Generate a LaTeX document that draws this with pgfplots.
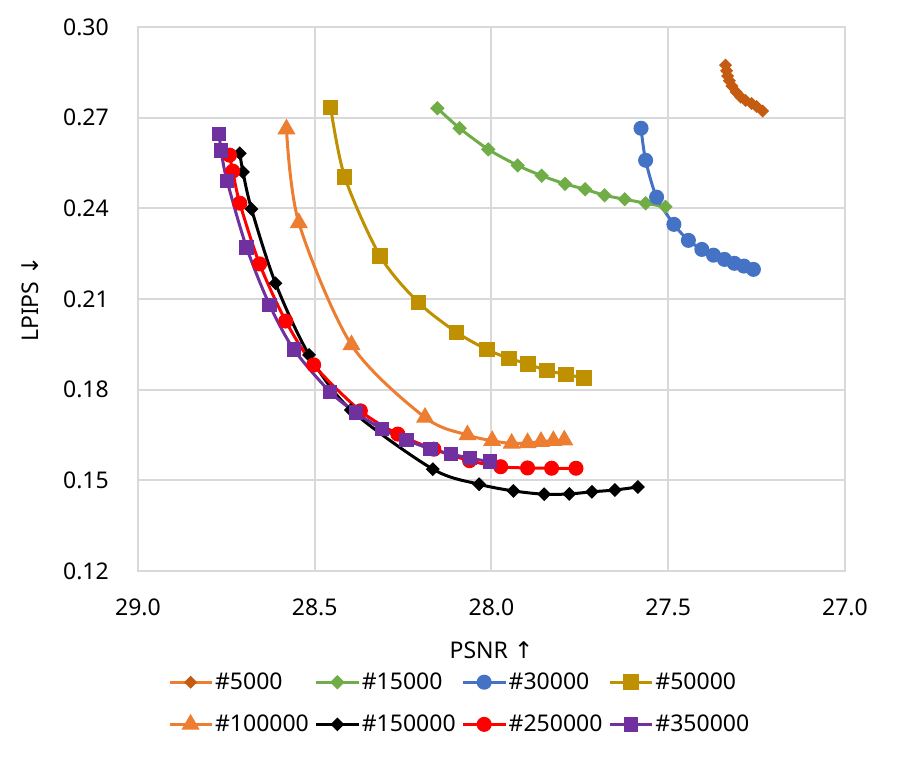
\documentclass[border=0pt]{standalone}
\usepackage{pgfplots}
\pgfplotsset{compat=1.18}
\usepackage{fontspec}
\setmainfont{Noto Sans}
\newfontfamily\symfont{DejaVu Sans}

\definecolor{cA}{HTML}{C55A11}
\definecolor{cAline}{HTML}{ED7D31}
\definecolor{cB}{HTML}{70AD47}
\definecolor{cC}{HTML}{4472C4}
\definecolor{cD}{HTML}{BF9000}
\definecolor{cE}{HTML}{ED7D31}
\definecolor{cF}{HTML}{000000}
\definecolor{cG}{HTML}{FF0000}
\definecolor{cH}{HTML}{7030A0}
\definecolor{gridc}{HTML}{D9D9D9}

\newcommand{\chartfont}{\fontsize{23bp}{27bp}\selectfont}

\begin{document}
\begin{tikzpicture}
\path[use as bounding box] (0,0) rectangle (915bp,759bp);
\begin{axis}[
    at={(138bp,188bp)}, anchor=south west,
    width=707bp, height=544bp, scale only axis,
    x dir=reverse,
    xmin=27, xmax=29, ymin=0.12, ymax=0.30,
    xtick={27,27.5,28,28.5,29},
    ytick={0.12,0.15,0.18,0.21,0.24,0.27,0.30},
    xticklabel style={/pgf/number format/fixed, /pgf/number format/fixed zerofill, /pgf/number format/precision=1,
        anchor=center, yshift=-36bp},
    yticklabel style={/pgf/number format/fixed, /pgf/number format/fixed zerofill, /pgf/number format/precision=2,
        anchor=east, inner sep=0pt, xshift=-29bp},
    /pgf/number format/assume math mode=true,
    tick label style={font=\chartfont},
    major tick length=0pt,
    grid=major,
    major grid style={gridc, line width=2bp},
    axis line style={gridc, line width=2bp},
    xlabel={PSNR {\symfont ↑}},
    ylabel={LPIPS {\symfont ↓}},
    label style={font=\chartfont},
    xlabel style={at={(axis description cs:0.5,-0.146)}, anchor=center},
    ylabel style={at={(axis description cs:-0.153,0.5)}, anchor=center},
    legend style={at={(0.455,-0.180)}, anchor=north, legend columns=4, draw=none,
        font=\chartfont, row sep=20bp, nodes={inner sep=2bp},
        /tikz/every even column/.append style={column sep=4bp}},
    legend cell align=left,
    legend image code/.code={\draw[mark repeat=2, mark phase=2] plot coordinates {(0bp,0bp)(21bp,0bp)(42bp,0bp)};},
    every axis plot/.append style={line width=3bp, smooth},
]
% #5000
\addplot[color=cAline, mark=square*, mark size=3.1bp, mark options={rotate=45, draw=cA, fill=cA}] coordinates {
(27.338,0.2874) (27.335,0.2855) (27.332,0.2838) (27.327,0.2822) (27.320,0.2805)
(27.308,0.2785) (27.295,0.2768) (27.281,0.2757) (27.264,0.2747) (27.250,0.2737) (27.233,0.2722)
};
\addlegendentry{\#5000}
% #15000
\addplot[color=cB, mark=square*, mark size=3.6bp, mark options={rotate=45, fill=cB}] coordinates {
(28.153,0.2731) (28.090,0.2665) (28.009,0.2595) (27.926,0.2542) (27.858,0.2508)
(27.792,0.2481) (27.735,0.2463) (27.680,0.2443) (27.623,0.2430) (27.564,0.2417) (27.508,0.2405)
};
\addlegendentry{\#15000}
% #30000
\addplot[color=cC, mark=*, mark size=6bp, mark options={fill=cC}] coordinates {
(27.577,0.2665) (27.564,0.2559) (27.533,0.2437) (27.484,0.2347) (27.443,0.2294)
(27.405,0.2264) (27.372,0.2245) (27.341,0.2231) (27.313,0.2218) (27.286,0.2209) (27.259,0.2198)
};
\addlegendentry{\#30000}
% #50000
\addplot[color=cD, mark=square*, mark size=6.2bp, mark options={fill=cD}] coordinates {
(28.455,0.2734) (28.415,0.2503) (28.315,0.2242) (28.207,0.2089) (28.099,0.1990)
(28.013,0.1933) (27.951,0.1904) (27.897,0.1885) (27.843,0.1863) (27.789,0.1851) (27.738,0.1838)
};
\addlegendentry{\#50000}
% #100000
\addplot[color=cE, mark=triangle*, mark size=7.5bp, mark options={fill=cE}] coordinates {
(28.580,0.2662) (28.545,0.2352) (28.396,0.1948) (28.188,0.1708) (28.068,0.1650)
(27.998,0.1631) (27.943,0.1622) (27.898,0.1624) (27.860,0.1628) (27.825,0.1631) (27.794,0.1633)
};
\addlegendentry{\#100000}
% #150000
\addplot[color=cF, mark=square*, mark size=3.4bp, mark options={rotate=45, fill=cF}] coordinates {
(28.712,0.2582) (28.703,0.2520) (28.679,0.2398) (28.611,0.2152) (28.516,0.1915)
(28.398,0.1733) (28.166,0.1537) (28.035,0.1487) (27.938,0.1465) (27.851,0.1454)
(27.780,0.1455) (27.716,0.1462) (27.651,0.1468) (27.586,0.1478)
};
\addlegendentry{\#150000}
% #250000
\addplot[color=cG, mark=*, mark size=6bp, mark options={fill=cG}] coordinates {
(28.741,0.2576) (28.732,0.2523) (28.712,0.2417) (28.656,0.2216) (28.582,0.2027)
(28.503,0.1882) (28.371,0.1730) (28.265,0.1653) (28.163,0.1603) (28.062,0.1565)
(27.974,0.1545) (27.898,0.1541) (27.830,0.1540) (27.761,0.1540)
};
\addlegendentry{\#250000}
% #350000
\addplot[color=cH, mark=square*, mark size=5.7bp, mark options={fill=cH}] coordinates {
(28.770,0.2645) (28.765,0.2591) (28.748,0.2491) (28.693,0.2271) (28.628,0.2081)
(28.559,0.1933) (28.457,0.1793) (28.384,0.1725) (28.310,0.1670) (28.241,0.1633)
(28.172,0.1604) (28.114,0.1587) (28.061,0.1573) (28.004,0.1562)
};
\addlegendentry{\#350000}
\end{axis}
\end{tikzpicture}
\end{document}
